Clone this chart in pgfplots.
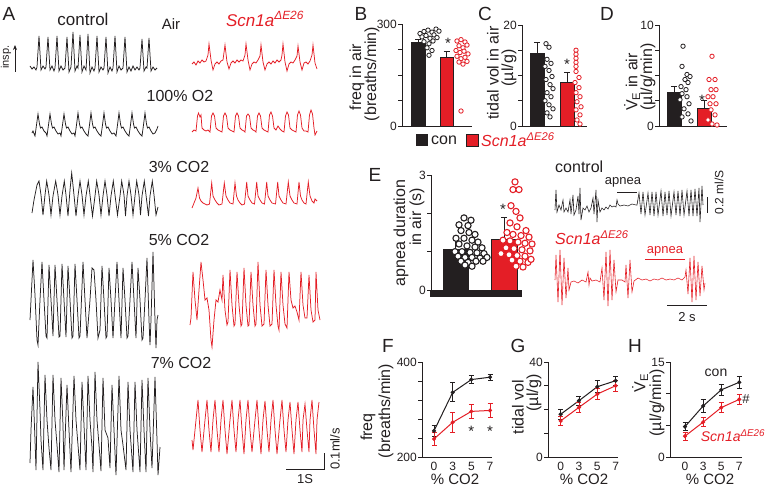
\documentclass[border=0pt]{standalone}
\usepackage{fontspec}
\setmainfont{Liberation Sans}
\usepackage{pgfplots}
\pgfplotsset{compat=1.18}
\usetikzlibrary{arrows.meta}
\definecolor{cred}{RGB}{228,30,38}
\definecolor{cblk}{RGB}{35,31,32}
\newcommand{\fs}[1]{\fontsize{#1}{#1}\selectfont}
\newcommand{\scn}{\textit{Scn1a\textsuperscript{ΔE26}}}
\pgfplotsset{
  panel/.style={scale only axis, clip=false, anchor=south west,
    axis x line*=bottom, axis y line*=left,
    axis line style={line width=0.9pt, cblk, -},
    tick style={line width=0.9pt, cblk},
    major tick length=4pt, tick align=outside,
    xtick=\empty,
    yticklabel style={font=\fs{12}, inner sep=1pt, text=cblk},
    xticklabel style={font=\fs{12}, inner sep=1pt, text=cblk},
    /pgf/number format/assume math mode=true},
  bardot/.style={only marks, mark=*, mark size=2.2pt, mark options={fill=white, line width=0.8pt}},
  bigdot/.style={only marks, mark=*, mark size=3.1pt, mark options={fill=white, line width=1.1pt}},
  ebp/.style={error bars/.cd, y dir=plus, y explicit, error bar style={line width=0.9pt, cblk}, error mark options={rotate=90, mark size=3pt, line width=0.9pt, cblk}},
  lnp/.style={line width=1pt, mark=*, mark size=1.5pt, error bars/.cd, y dir=both, y explicit, error bar style={line width=0.8pt}, error mark options={rotate=90, mark size=2.5pt, line width=0.8pt}},
  lpanel/.style={panel, width=70pt, height=95pt, xtick={0,1,2,3}, xticklabels={0,3,5,7}, x tick style={draw=none}},
}
\begin{document}
\begin{tikzpicture}[x=1pt,y=1pt]
\useasboundingbox (0,0) rectangle (767,495);
% ---------- traces and text (pixel coordinates) ----------
\begin{axis}[at={(0pt,0pt)}, anchor=south west, scale only axis, width=767pt, height=495pt,
  xmin=0, xmax=767, ymin=0, ymax=495, y dir=reverse, axis lines=none, clip=false]
% Air control
\addplot[cblk, line width=0.75pt] coordinates {(30,66)(32,69)(34,67)(36,70)(37,67)(39,36)(41,70)(43,66)(45,69)(46,67)(48,37)(50,70)(52,66)(54,71)(55,68)(57,36)(59,71)(61,66)(63,70)(65,68)(67,37)(69,72)(71,67)(73,32)(75,71)(77,66)(78,68)(80,35)(82,72)(84,66)(86,70)(88,34)(90,73)(92,67)(94,71)(95,68)(97,36)(99,72)(101,67)(103,70)(104,68)(106,37)(108,73)(110,67)(112,71)(113,68)(115,36)(117,72)(119,66)(121,70)(123,68)(125,37)(127,72)(129,67)(131,71)(133,66)(135,70)(137,67)(139,70)(140,68)(142,39)(144,71)(146,67)(147,68)(149,38)(151,71)(153,67)(155,70)(157,68)};
% Air red
\addplot[cred, line width=0.75pt] coordinates {(192,64)(194,62)(196,65)(198,61)(200,63)(202,60)(204,62)(206,61)(208,55)(209,44)(211,60)(213,70)(215,64)(217,62)(219,64)(221,61)(223,60)(225,45)(227,62)(229,69)(231,63)(233,61)(235,63)(237,60)(239,62)(241,60)(243,61)(245,55)(246,44)(248,60)(250,70)(252,64)(254,62)(256,63)(258,60)(260,56)(261,45)(263,62)(265,70)(267,64)(269,62)(271,64)(273,61)(275,63)(277,60)(279,62)(281,60)(282,55)(283,44)(285,62)(287,71)(289,64)(291,62)(293,63)(295,60)(297,56)(298,46)(300,62)(302,70)(304,63)(306,62)(308,64)(310,61)(312,55)(313,45)(315,63)(317,69)};
% O2 control
\addplot[cblk, line width=0.75pt] coordinates {(32,133)(33,131)(35,136)(36.5,125)(38,114)(39.5,124)(40.5,128)(42,127)(44,131)(46,133)(47,136)(48.5,125)(50,114)(51.5,124)(52.5,128)(54,127)(56,131)(58,134)(60,133)(61,136)(62.5,125)(64,114)(65.5,124)(66.5,128)(68,127)(70,131)(72,134)(74,133)(75,136)(76.5,125)(78,113)(79.5,124)(80.5,128)(82,127)(84,131)(86,134)(88,136)(89.5,125)(91,113)(92.5,124)(93.5,128)(95,127)(97,131)(99,134)(101,136)(102.5,125)(104,113)(105.5,124)(106.5,128)(108,127)(110,131)(112,134)(114,133)(116,136)(117.5,125)(119,113)(120.5,124)(121.5,128)(123,127)(125,131)(127,134)(129,136)(130.5,125)(132,113)(133.5,124)(134.5,128)(136,127)(138,131)(140,134)(142,136)(143.5,125)(145,113)(146.5,124)(147.5,128)(149,127)(151,131)(153,134)(155,133)(157,129)(158,126)};
% O2 red
\addplot[cred, line width=0.75pt] coordinates {(192,132)(194,130)(196,131)(197.5,116)(198.5,113)(200,117)(201,115)(202,128)(204,130)(206,131)(208,130)(210,132)(211.5,116)(213,113)(214.5,116)(216,128)(218,130)(220,131)(222,132)(223.5,116)(225,113)(226.5,116)(228,128)(230,130)(232,131)(234,132)(235.5,116)(237,113)(238.5,116)(240,128)(242,130)(244,131)(245,132)(246.5,116)(248,114)(249.5,116)(251,128)(253,130)(255,131)(256,132)(257.5,116)(259,113)(260.5,116)(262,128)(264,130)(266,131)(268,132)(269.5,115)(271,112)(272.5,116)(274,128)(276,130)(278,126)(280,129)(282,131)(284,132)(285.5,116)(287,112)(288.5,115)(290,128)(292,130)(294,131)(296,132)(297.5,115)(299,111)(300.5,115)(302,128)(304,131)(306,131)(308,132)(309.5,115)(311,110)(312.5,114)(314,128)(315,135)(317,131)};
% 3% control
\addplot[cblk, line width=0.75pt] coordinates {(32,213)(34,200)(37,185)(39,181)(41,195)(43,215)(45,195)(46.7,181)(49,195)(51,215)(53,196)(55.7,181)(58,195)(60,215)(62,196)(64.3,181)(66,195)(68,216)(70,190)(71.7,173)(74,195)(76,216)(78,196)(80,181)(82,195)(84,215)(86,196)(88.3,181)(90,195)(92.5,216)(95,196)(96.7,181)(99,195)(101,215)(103,196)(105,181)(107,195)(109,216)(111,196)(113.3,181)(115,195)(117.5,215)(120,196)(121.7,181)(124,195)(125.5,216)(127,196)(129,181)(131,195)(133,215)(135,196)(136.7,181)(139,195)(140.5,215)(142,196)(144.3,181)(146,195)(148.5,216)(150,196)(152.3,181)(154,195)(156,215)(158,207)};
% 3% red
\addplot[cred, line width=0.75pt] coordinates {(192,208)(194,203)(196,198)(198,188)(199.5,198)(201,201)(203,203)(205,204)(207,205)(209.5,204)(211.7,183)(213,196)(215,200)(217,203)(219,205)(222,204)(224.3,183)(226,196)(228,200)(230,203)(233,204)(235,183)(236.5,196)(238,200)(240,203)(242,205)(244.5,204)(246.7,182)(248,196)(250,200)(252,203)(254.5,204)(256.7,182)(258,196)(260,200)(262,203)(264.5,204)(266.7,182)(268,196)(270,200)(272,203)(275.5,204)(277.7,182)(279,196)(281,200)(283,203)(286,204)(288.3,182)(290,196)(292,200)(294,203)(297,204)(299,182)(300.5,196)(302,200)(304,203)(306,204)(308.3,182)(310,196)(312,201)(314,203)(315,199)(317,201)};
% 5% control
\addplot[cblk, line width=0.75pt] coordinates {(30,320)(31,300)(33,260)(35,295)(37,340)(38,345)(40,300)(42,262)(44,300)(46,336)(47,338)(49,265)(51,300)(53,336)(55,265)(57,300)(59,337)(60,336)(62,264)(64,300)(66,337)(68,266)(70,300)(72,338)(73,336)(75,264)(77,300)(79,338)(80,336)(83,262)(85,300)(87,338)(90,300)(92,268)(94,270)(96,300)(98,338)(100,330)(102,266)(104,300)(106,338)(107,336)(109,268)(111,300)(113,338)(115,300)(117,262)(119,300)(121,338)(123,268)(125,300)(127,338)(128,336)(130,300)(132,262)(134,300)(136,338)(138,268)(140,300)(142,340)(143,338)(145,300)(147,258)(149,320)(150,345)(151,320)(153,252)(155,320)(156,348)(157,320)(158,315)};
% 5% red
\addplot[cred, line width=0.75pt] coordinates {(190,325)(191,318)(193,272)(195,300)(197,320)(199,290)(201,262)(203,280)(205,300)(207,298)(209,310)(211,340)(212,347)(214,320)(216,300)(218,302)(220,290)(222,300)(223,275)(225,310)(227,325)(228,322)(230,270)(232,305)(234,326)(235,324)(237,272)(239,305)(241,326)(242,324)(244,268)(246,305)(248,326)(249,325)(251,272)(253,305)(255,326)(256,324)(258,262)(260,305)(262,326)(264,324)(266,270)(268,305)(270,326)(272,324)(274,270)(276,305)(278,326)(279,330)(281,272)(283,305)(285,324)(287,328)(289,272)(291,300)(293,308)(295,306)(297,312)(299,320)(301,272)(303,305)(305,318)(307,318)(309,275)(311,310)(313,322)(315,320)(316,272)(318,310)(320,320)};
% 7% control
\addplot[cblk, line width=0.75pt] coordinates {(30,463)(31,430)(33,387)(35,440)(36,470)(38,362)(40,410)(41,440)(43,470)(45,375)(47,420)(49,448)(51,470)(53,375)(55,420)(57,445)(59,472)(61,378)(63,425)(64,470)(67,385)(69,430)(71,472)(74,376)(76,420)(78,445)(80,470)(82,382)(84,425)(86,470)(88,376)(90,420)(92,448)(93,472)(95,372)(97,420)(99,445)(101,471)(103,378)(105,430)(108,438)(110,468)(112,385)(114,430)(116,475)(119,376)(121,430)(123,445)(126,470)(128,382)(130,430)(133,472)(135,382)(137,430)(140,472)(142,380)(144,430)(146,472)(148,378)(150,430)(152,468)(155,377)(157,440)(158,475)(160,447)};
% 7% red
\addplot[cred, line width=0.75pt] coordinates {(192,440)(193,450)(196,420)(198,400)(200,430)(202,452)(205,420)(207,400)(209,430)(211,452)(213,420)(215,400)(217,430)(219,452)(221,420)(223,400)(225,430)(227,454)(230,420)(232,400)(234,430)(236,452)(238,420)(240,400)(242,430)(244,454)(246,420)(248,400)(250,430)(252,452)(255,420)(257,400)(259,430)(261,454)(263,420)(265,401)(267,430)(269,452)(271,420)(273,400)(275,430)(277,454)(280,420)(282,400)(284,430)(286,452)(288,420)(290,402)(292,430)(294,454)(296,420)(298,402)(300,430)(302,452)(303,420)(305,404)(307,430)(309,452)(310,420)(312,400)(314,430)(316,454)(317,420)(319,402)};
% E control trace
\addplot[cblk, line width=0.6pt] coordinates {(555,210)(556,190)(557,212)(559,205)(561,210)(563,200)(564,212)(566,208)(568,212)(570,200)(571,214)(573,195)(574,215)(576,210)(578,196)(579,214)(580,188)(581,220)(583,208)(585,210)(587,206)(589,212)(591,208)(593,198)(594,214)(596,190)(597,222)(598,200)(600,212)(602,208)(604,210)(606,207)(608,209)(610,205)(612,207)(614,206)(616,207)(617,200)(618,204)(620,206)(624,205)(628,206)(632,204)(636,205)(637,205)(639,193)(641,214)(643,192)(645,215)(648,193)(650,215)(652,192)(654,216)(656,192)(658,215)(661,191)(663,216)(665,192)(667,215)(669,191)(671,216)(674,192)(676,215)(678,191)(680,216)(682,190)(684,215)(687,191)(689,216)(691,190)(693,216)(695,189)(697,216)(699,188)(700,222)(702,186)(703,205)};
% E red trace
\addplot[cred, line width=0.6pt] coordinates {(555,280)(556,255)(558,302)(560,250)(562,305)(564,258)(566,298)(568,268)(569,290)(571,282)(574,281)(578,283)(582,280)(586,282)(588,272)(589,285)(590,278)(592,281)(596,280)(600,282)(602,268)(604,300)(606,252)(608,306)(610,250)(612,300)(614,260)(616,292)(618,280)(622,280)(625,282)(626,265)(628,298)(630,260)(632,292)(634,281)(638,278)(642,280)(646,279)(650,281)(654,279)(658,280)(662,278)(666,280)(670,279)(674,280)(678,278)(682,280)(685,277)(686,270)(688,294)(690,258)(692,302)(694,256)(696,300)(698,262)(700,296)(702,266)(704,290)(705,283)};
% ---- text for A ----
\node[font=\fs{19}, text=cblk] at (axis cs:9,14) {A};
\node[font=\fs{17}, text=cblk] at (axis cs:83,19) {control};
\node[font=\fs{15}, text=cblk] at (axis cs:171,24) {Air};
\node[font=\fs{17}, text=cred] at (axis cs:265,19) {\scn};
\node[font=\fs{11}, text=cblk, rotate=90] at (axis cs:6,57) {insp.};
\draw[cblk, line width=1pt, -{Stealth[length=5pt,width=4pt]}] (axis cs:15,72) -- (axis cs:15,45);
\node[font=\fs{16}, text=cblk] at (axis cs:180,96) {100\% O2};
\node[font=\fs{16}, text=cblk] at (axis cs:179,167) {3\% CO2};
\node[font=\fs{16}, text=cblk] at (axis cs:179,240) {5\% CO2};
\node[font=\fs{16}, text=cblk] at (axis cs:181,363) {7\% CO2};
\draw[cblk, line width=0.9pt] (axis cs:286,469) -- (axis cs:324,469) -- (axis cs:324,453);
\node[font=\fs{13}, text=cblk] at (axis cs:305,479) {1S};
\node[font=\fs{13}, text=cblk, rotate=90] at (axis cs:335,449) {0.1ml/s};
% ---- panel letters and labels ----
\node[font=\fs{19}, text=cblk] at (axis cs:361,14) {B};
\node[font=\fs{19}, text=cblk] at (axis cs:485,14) {C};
\node[font=\fs{19}, text=cblk] at (axis cs:607,14) {D};
\node[font=\fs{19}, text=cblk] at (axis cs:375,175) {E};
\node[font=\fs{19}, text=cblk] at (axis cs:388,346) {F};
\node[font=\fs{19}, text=cblk] at (axis cs:518,346) {G};
\node[font=\fs{19}, text=cblk] at (axis cs:635,346) {H};
\node[font=\fs{16}, text=cblk, rotate=90] at (axis cs:357,77) {freq in air};
\node[font=\fs{16}, text=cblk, rotate=90] at (axis cs:372,74) {(breaths/min)};
\node[font=\fs{16}, text=cblk, rotate=90] at (axis cs:493,73) {tidal vol in air};
\node[font=\fs{16}, text=cblk, rotate=90] at (axis cs:509,68) {(µl/g)};
\node[font=\fs{16}, text=cblk, rotate=90] at (axis cs:632,82) {\.{V}\textsubscript{E} in air};
\node[font=\fs{16}, text=cblk, rotate=90] at (axis cs:648,77) {(µl/g/min)};
\node[font=\fs{16}, text=cblk, rotate=90] at (axis cs:401,233) {apnea duration};
\node[font=\fs{16}, text=cblk, rotate=90] at (axis cs:417,217) {in air (s)};
\node[font=\fs{16}, text=cblk, rotate=90] at (axis cs:368,427) {freq};
\node[font=\fs{16}, text=cblk, rotate=90] at (axis cs:386,411) {(breaths/min)};
\node[font=\fs{16}, text=cblk, rotate=90] at (axis cs:518,407) {tidal vol};
\node[font=\fs{16}, text=cblk, rotate=90] at (axis cs:534,393) {(µl/g)};
\node[font=\fs{16}, text=cblk, rotate=90] at (axis cs:640,383) {\.{V}\textsubscript{E}};
\node[font=\fs{16}, text=cblk, rotate=90] at (axis cs:657,403) {(µl/g/min)};
\node[font=\fs{15}, text=cblk] at (axis cs:455,479) {\% CO2};
\node[font=\fs{15}, text=cblk] at (axis cs:584,479) {\% CO2};
\node[font=\fs{15}, text=cblk] at (axis cs:710,479) {\% CO2};
% legend under B-D
\fill[cblk] (axis cs:416,134) rectangle (axis cs:428,146);
\node[font=\fs{16}, text=cblk, anchor=west, inner sep=1pt] at (axis cs:430,140) {con};
\filldraw[fill=cred, draw=cblk, line width=0.6pt] (axis cs:466,134) rectangle (axis cs:478,146);
\node[font=\fs{16}, text=cred, anchor=west, inner sep=1pt] at (axis cs:480,140) {\scn};
% E traces annotations
\node[font=\fs{16}, text=cblk, anchor=west, inner sep=0pt] at (axis cs:555,167) {control};
\node[font=\fs{13}, text=cblk] at (axis cs:623,182) {apnea};
\draw[cblk, line width=0.8pt] (axis cs:617,192) -- (axis cs:637,192);
\draw[cblk, line width=1pt] (axis cs:707,197) -- (axis cs:707,213);
\node[font=\fs{12}, text=cblk, rotate=90] at (axis cs:719,192) {0.2 ml/S};
\node[font=\fs{16}, text=cred, anchor=west, inner sep=0pt] at (axis cs:555,238) {\scn};
\node[font=\fs{13}, text=cred] at (axis cs:665,251) {apnea};
\draw[cred, line width=0.8pt] (axis cs:645,259) -- (axis cs:685,259);
\draw[cblk, line width=1pt] (axis cs:667,305) -- (axis cs:707,305);
\node[font=\fs{13}, text=cblk] at (axis cs:687,317) {2 s};
% H annotations
\node[font=\fs{14}, text=cblk] at (axis cs:716,373) {con};
\node[font=\fs{13}, text=cblk] at (axis cs:746,399) {\#};
\node[font=\fs{14}, text=cred] at (axis cs:733,436) {\scn};
\end{axis}
% ---------- B ----------
\begin{axis}[panel, at={(402pt,369pt)}, width=70pt, height=102pt, xmin=0, xmax=70, ymin=0, ymax=300,
  ytick={0,75,150,225,300}, yticklabels={0,,,,300}]
\addplot[ybar, bar width=14pt, bar shift=0pt, fill=cblk, draw=cblk, ebp] coordinates {(16,247) +- (0,8)};
\addplot[ybar, bar width=13pt, bar shift=0pt, fill=cred, draw=cblk, line width=0.6pt, ebp] coordinates {(44.5,203) +- (0,15)};
\addplot[bardot, cblk] coordinates {(18,272)(22,278)(26,282)(30,276)(34,285)(37,279)(20,262)(24,266)(28,258)(32,268)(35,260)(22,248)(27,242)(31,250)(25,230)(30,222)(27,208)};
\addplot[bardot, cred] coordinates {(55,250)(59,254)(63,247)(57,236)(61,230)(65,238)(54,222)(58,216)(62,220)(66,212)(55,205)(59,198)(63,202)(57,188)(61,182)(65,190)(59,44)};
\node[font=\fs{15}, text=cblk] at (axis cs:46,242) {*};
\end{axis}
% ---------- C ----------
\begin{axis}[panel, at={(522pt,369pt)}, width=65pt, height=101pt, xmin=0, xmax=65, ymin=0, ymax=20,
  ytick={0,5,10,15,20}, yticklabels={0,,,,20}]
\addplot[ybar, bar width=14pt, bar shift=0pt, fill=cblk, draw=cblk, ebp] coordinates {(15,14.5) +- (0,2.0)};
\addplot[ybar, bar width=14pt, bar shift=0pt, fill=cred, draw=cblk, line width=0.6pt, ebp] coordinates {(45,8.7) +- (0,1.9)};
\addplot[bardot, cblk] coordinates {(24,16.3)(27,15.6)(25,13.2)(29,12.4)(23,11.8)(27,11.0)(30,9.8)(24,9.2)(28,8.2)(31,7.4)(25,6.6)(29,5.8)(23,5.0)(27,4.2)(31,3.4)(25,2.6)(28,1.8)};
\addplot[bardot, cred] coordinates {(54,15.0)(54,14.2)(54,13.4)(54,12.6)(54,11.8)(54,10.8)(57,9.6)(53,8.6)(57,7.6)(54,6.6)(58,5.8)(55,4.8)(59,3.8)(54,3.2)(58,2.2)(55,1.2)(58,0.4)};
\node[font=\fs{15}, text=cblk] at (axis cs:45,12.3) {*};
\end{axis}
% ---------- D ----------
\begin{axis}[panel, at={(659pt,369pt)}, width=68pt, height=101pt, xmin=0, xmax=68, ymin=0, ymax=10,
  ytick={0,2.5,5,7.5,10}, yticklabels={0,,,,10}]
\addplot[ybar, bar width=14pt, bar shift=0pt, fill=cblk, draw=cblk, ebp] coordinates {(15,3.3) +- (0,0.6)};
\addplot[ybar, bar width=14pt, bar shift=0pt, fill=cred, draw=cblk, line width=0.6pt, ebp] coordinates {(45,1.8) +- (0,0.7)};
\addplot[bardot, cblk] coordinates {(24,7.9)(23,5.9)(28,5.1)(31,4.9)(26,4.6)(29,4.3)(22,3.9)(27,3.6)(23,3.2)(28,2.9)(21,2.6)(30,2.2)(25,1.7)(29,1.2)(23,0.9)(32,0.5)};
\addplot[bardot, cred] coordinates {(53,6.9)(50,4.6)(56,4.6)(52,3.6)(57,3.6)(49,2.9)(54,2.9)(51,2.2)(57,2.2)(52,1.6)(56,1.1)(49,0.6)(53,0.2)(58,0.1)};
\node[font=\fs{15}, text=cblk] at (axis cs:43,2.5) {*};
\end{axis}
% ---------- E ----------
\begin{axis}[panel, axis x line=none, at={(431pt,205pt)}, width=91pt, height=115pt, xmin=0, xmax=91, ymin=0, ymax=3,
  ytick={0,1,2,3}, yticklabels={0,,,3}]
\fill[cblk] (axis cs:-1,0) rectangle (axis cs:91,-0.19);
\addplot[ybar, bar width=25pt, bar shift=0pt, fill=cblk, draw=cblk, ebp] coordinates {(24.5,1.07) +- (0,0.32)};
\addplot[ybar, bar width=26pt, bar shift=0pt, fill=cred, draw=cblk, line width=0.6pt, ebp] coordinates {(73,1.31) +- (0,0.58)};
\addplot[bigdot, cblk] coordinates {(33,1.88)(40,1.82)(28,1.7)(37,1.68)(30,1.55)(38,1.5)(44,1.45)(25,1.35)(33,1.35)(41,1.3)(47,1.25)(28,1.2)(36,1.15)(44,1.12)(51,1.1)(24,1.0)(31,1.0)(39,0.98)(46,0.97)(53,0.95)(27,0.88)(34,0.85)(41,0.85)(49,0.83)(56,0.85)(30,0.75)(37,0.72)(45,0.75)(52,0.75)(34,0.65)(41,0.62)};
\addplot[bigdot, cred] coordinates {(84,2.82)(82,2.62)(88,2.62)(80,2.2)(85,2.05)(89,1.88)(79,1.75)(86,1.65)(95,1.55)(76,1.5)(82,1.45)(90,1.42)(98,1.38)(72,1.3)(79,1.28)(87,1.25)(94,1.22)(101,1.2)(75,1.1)(83,1.08)(91,1.05)(99,1.02)(70,0.95)(78,0.92)(86,0.9)(94,0.88)(81,0.78)(89,0.75)(97,0.72)(85,0.62)(92,0.6)(100,0.8)};
\node[font=\fs{15}, text=cblk] at (axis cs:72,2.1) {*};
\end{axis}
% ---------- F ----------
\begin{axis}[lpanel, at={(422pt,38pt)}, xmin=-0.643, xmax=3.107, ymin=200, ymax=400,
  ytick={200,240,280,320,360,400}, yticklabels={200,,,,,400}]
\addplot[cblk, lnp] coordinates {(0,255) +- (0,12) (1,336) +- (0,20) (2,363) +- (0,8) (3,368) +- (0,6)};
\addplot[cred, lnp] coordinates {(0,238) +- (0,14) (1,273) +- (0,21) (2,296) +- (0,15) (3,298) +- (0,15)};
\node[font=\fs{15}, text=cblk] at (axis cs:2,255) {*};
\node[font=\fs{15}, text=cblk] at (axis cs:3,255) {*};
\end{axis}
% ---------- G ----------
\begin{axis}[lpanel, at={(548pt,38pt)}, xmin=-0.69, xmax=3.13, ymin=0, ymax=40,
  ytick={0,10,20,30,40}, yticklabels={0,,,,40}]
\addplot[cblk, lnp] coordinates {(0,18.0) +- (0,2) (1,23.7) +- (0,2) (2,29.6) +- (0,2.5) (3,32.1) +- (0,2)};
\addplot[cred, lnp] coordinates {(0,15.2) +- (0,2) (1,20.9) +- (0,2.2) (2,26.5) +- (0,2.2) (3,30.0) +- (0,2.2)};
\end{axis}
% ---------- H ----------
\begin{axis}[lpanel, width=72pt, at={(670pt,38pt)}, xmin=-0.83, xmax=3.15, ymin=0, ymax=15,
  ytick={0,5,10,15}, yticklabels={0,,,15}]
\addplot[cblk, lnp] coordinates {(0,4.8) +- (0,0.6) (1,8.05) +- (0,1.0) (2,10.6) +- (0,0.9) (3,11.8) +- (0,1.0)};
\addplot[cred, lnp] coordinates {(0,3.3) +- (0,0.6) (1,5.5) +- (0,0.7) (2,7.8) +- (0,0.8) (3,9.1) +- (0,0.8)};
\end{axis}
\end{tikzpicture}
\end{document}
